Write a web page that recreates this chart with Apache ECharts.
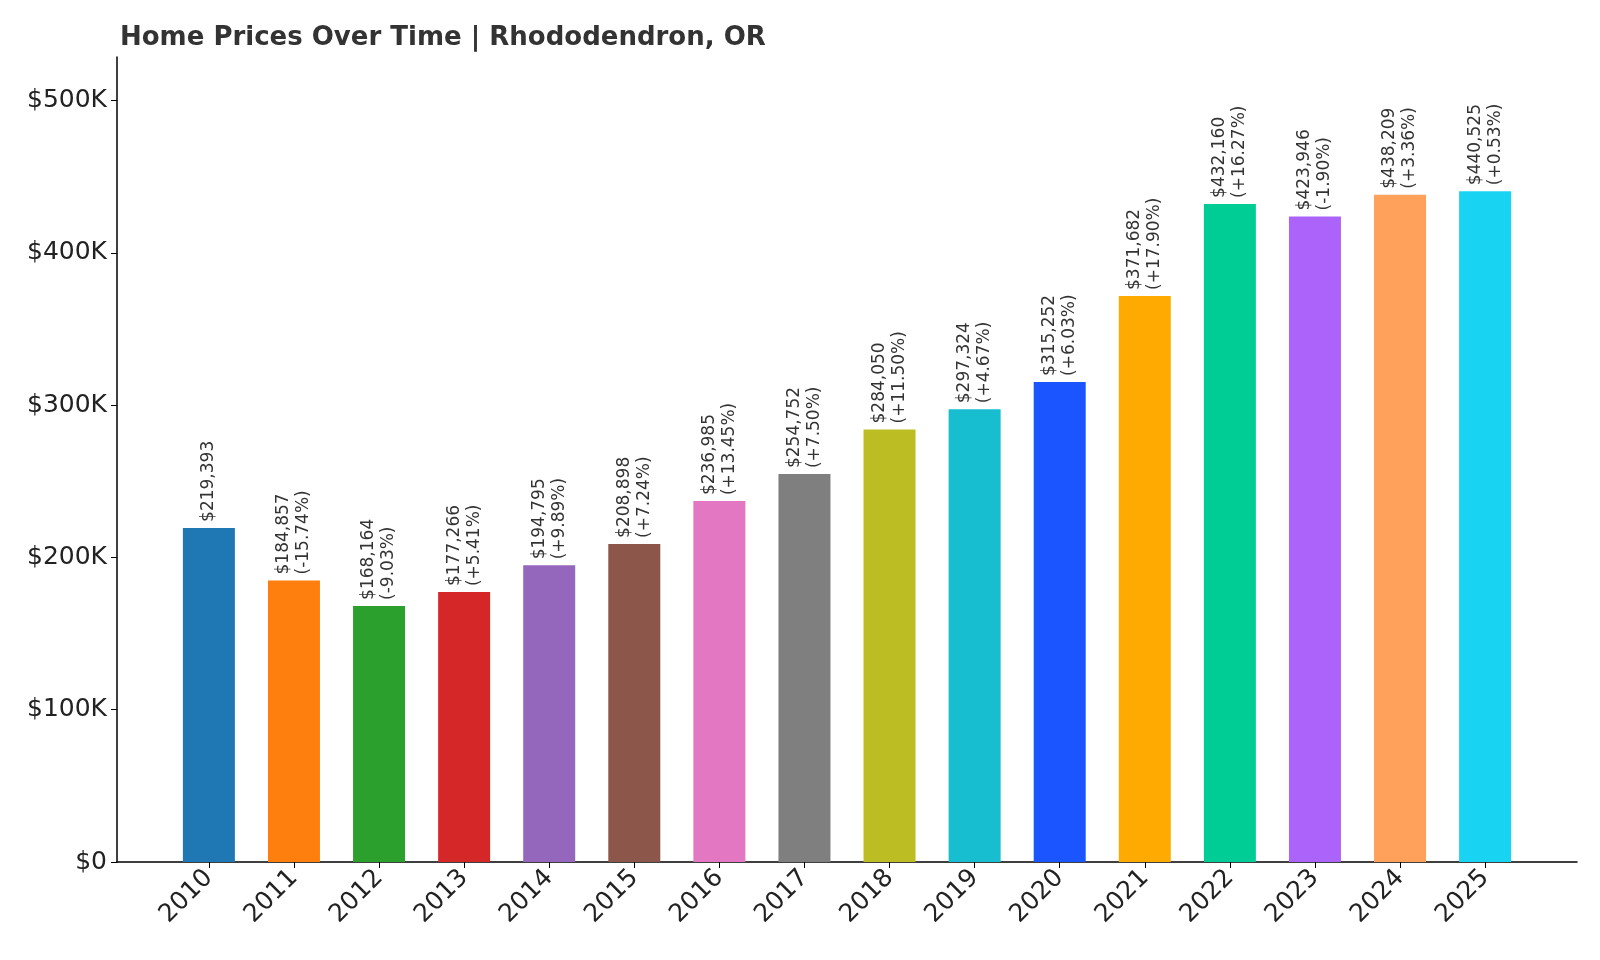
<!DOCTYPE html>
<html><head><meta charset="utf-8">
<script src="https://cdn.jsdelivr.net/npm/echarts@6/dist/echarts.min.js"></script>
<style>html,body{margin:0;padding:0;background:#fff}#c{width:1600px;height:960px}</style>
</head><body><div id="c"></div>
<script>
const years = [2010,2011,2012,2013,2014,2015,2016,2017,2018,2019,2020,2021,2022,2023,2024,2025];
const prices = [219393,184857,168164,177266,194795,208898,236985,254752,284050,297324,315252,371682,432160,423946,438209,440525];
const changes = [null,'-15.74%','-9.03%','+5.41%','+9.89%','+7.24%','+13.45%','+7.50%','+11.50%','+4.67%','+6.03%','+17.90%','+16.27%','-1.90%','+3.36%','+0.53%'];
const colors = ['#1f77b4','#ff7f0e','#2ca02c','#d62728','#9467bd','#8c564b','#e377c2','#7f7f7f','#bcbd22','#17becf','#1a55ff','#ffaa00','#00cc96','#ab63fa','#ffa15a','#19d3f3'];
const yTicks = [0,100000,200000,300000,400000,500000];
const font = 'DejaVu Sans';
const chart = echarts.init(document.getElementById('c'));
chart.setOption({
  animation:false,
  textStyle:{fontFamily:font},
  title:{text:'Home Prices Over Time | Rhododendron, OR',left:115,top:20,textStyle:{fontFamily:font,fontSize:26,fontWeight:'bold',color:'#333'}},
  grid:{left:117,right:23,top:57,bottom:98},
  xAxis:{type:'value',min:2010-1.08,max:2025+1.08,
    axisLine:{lineStyle:{color:'#000',width:1.5}},
    splitLine:{show:false},
    axisTick:{customValues:years,length:6,lineStyle:{color:'#000'}},
    axisLabel:{customValues:years,rotate:45,fontSize:25,color:'#222',margin:12,fontFamily:font,formatter:v=>String(v)}},
  yAxis:{type:'value',min:0,max:528630,
    axisLine:{show:true,lineStyle:{color:'#000',width:1.5}},
    splitLine:{show:false},
    axisTick:{show:true,customValues:yTicks,length:6,lineStyle:{color:'#000'}},
    axisLabel:{customValues:yTicks,fontSize:25,color:'#222',margin:10,fontFamily:font,
      formatter:v=>v===0?'$0':'$'+(v/1000)+'K'}},
  series:[{type:'bar',barWidth:52,
    data:years.map((y,i)=>({value:[y,prices[i]],itemStyle:{color:colors[i]}})),
    label:{show:true,position:'top',rotate:90,align:'left',verticalAlign:'middle',distance:6,
      fontSize:17,color:'#333',fontFamily:font,lineHeight:20,
      formatter:p=>{const i=p.dataIndex;const s='$'+prices[i].toLocaleString('en-US');return changes[i]?s+'\n('+changes[i]+')':s;}}}]
});
</script></body></html>
